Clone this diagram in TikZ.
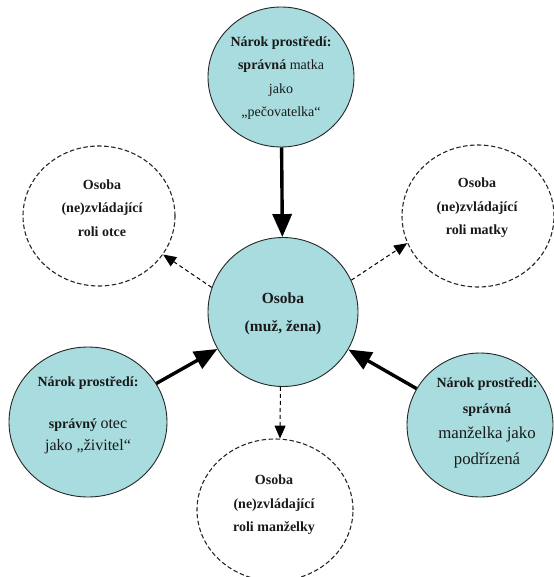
\documentclass[tikz,border=0pt]{standalone}
\usepackage{fontspec}
\setmainfont{Liberation Serif}
\usetikzlibrary{arrows.meta,shapes.geometric}
\definecolor{cyanfill}{RGB}{168,220,223}
\begin{document}
\begin{tikzpicture}[x=1pt,y=-1pt,
  bubble/.style={ellipse,draw=black!85,line width=0.9pt,fill=cyanfill,inner sep=0pt},
  dbubble/.style={ellipse,draw=black!85,line width=1.1pt,dash pattern=on 4.5pt off 2.5pt,inner sep=0pt},
  txt/.style={align=center,inner sep=0pt,text=black!90},
  bigarrow/.style={line width=3.4pt,-{Triangle[length=23pt,width=19pt]}},
  dasharrow/.style={line width=1pt,dash pattern=on 4pt off 3pt,-{Triangle[length=13pt,width=11pt]}}
]
\useasboundingbox (0,0) rectangle (553,577);

\node[bubble,minimum width=146pt,minimum height=140pt] (top) at (281,77) {};
\node[dbubble,minimum width=152pt,minimum height=140pt] (tl) at (99,216) {};
\node[dbubble,minimum width=152pt,minimum height=142pt] (tr) at (478,216) {};
\node[bubble,minimum width=150pt,minimum height=149pt] (c) at (283,312) {};
\node[bubble,minimum width=158pt,minimum height=150pt] (bl) at (88,422) {};
\node[bubble,minimum width=146pt,minimum height=144pt] (br) at (480,425) {};
\node[dbubble,minimum width=156pt,minimum height=142pt] (b) at (275,510) {};

\node[txt,font=\fontsize{14}{23.5}\selectfont\bfseries] (topT) at (281,78)
  {Nárok prostředí:\\ správná {\mdseries matka}\\ {\mdseries jako}\\ {\mdseries „pečovatelka“}};
\node[txt,font=\fontsize{14}{23.5}\selectfont\bfseries] (tlT) at (102,208)
  {Osoba\\ (ne)zvládající\\ roli otce};
\node[txt,font=\fontsize{14}{23.5}\selectfont\bfseries] (trT) at (477,208)
  {Osoba\\ (ne)zvládající\\ roli matky};
\node[txt,font=\fontsize{15.5}{28}\selectfont\bfseries] (cT) at (283,314)
  {Osoba\\ (muž, žena)};
\node[txt,font=\fontsize{14}{22}\selectfont\bfseries] (blT) at (88,415)
  {Nárok prostředí:\\[20pt] správný {\mdseries\fontsize{16}{22}\selectfont otec}\\ {\mdseries\fontsize{16}{22}\selectfont jako „živitel“}};
\node[txt,font=\fontsize{14}{25.5}\selectfont\bfseries] (brT) at (487,423)
  {Nárok prostředí:\\ správná\\ {\mdseries\fontsize{16.8}{25.5}\selectfont manželka jako}\\ {\mdseries\fontsize{16.8}{25.5}\selectfont podřízená}};
\node[txt,font=\fontsize{14}{23.5}\selectfont\bfseries] (bT) at (274,505)
  {Osoba\\ (ne)zvládající\\ roli manželky};

\draw[bigarrow] (top) -- (c);
\draw[bigarrow] (bl) -- (c);
\draw[bigarrow] (br) -- (c);
\draw[dasharrow] (c.161) -- (tl.-31);
\draw[dasharrow] (c.25) -- (tr.-159);
\draw[dasharrow] (c.-92) -- (b.86);
\end{tikzpicture}
\end{document}
